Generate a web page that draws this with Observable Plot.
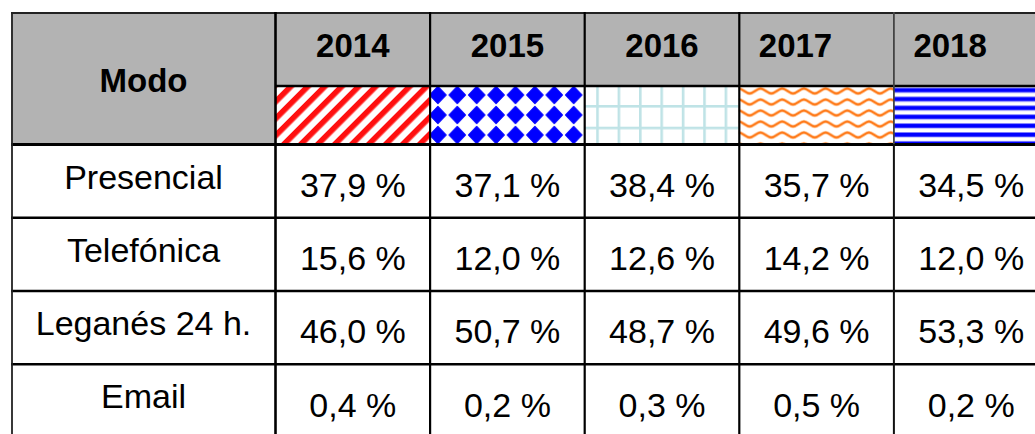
<!DOCTYPE html>
<html>
<head>
<meta charset="utf-8">
<script src="https://cdn.jsdelivr.net/npm/d3@7"></script>
<script src="https://cdn.jsdelivr.net/npm/@observablehq/plot@0.6"></script>
<style>
  html, body { margin: 0; padding: 0; background: #fff; }
  #chart svg { display: block; }
</style>
</head>
<body>
<div id="chart"></div>
<script>
// ---- data ----
const headerLabel = "Modo";
const modes = ["Presencial", "Telefónica", "Leganés 24 h.", "Email"];
const years = ["2014", "2015", "2016", "2017", "2018"];
const v2014 = [37.9, 15.6, 46.0, 0.4];
const v2015 = [37.1, 12.0, 50.7, 0.2];
const v2016 = [38.4, 12.6, 48.7, 0.3];
const v2017 = [35.7, 14.2, 49.6, 0.5];
const v2018 = [34.5, 12.0, 53.3, 0.2];
const series = [v2014, v2015, v2016, v2017, v2018];

// ---- layout ----
const W = 1035, H = 434;
const tLeft = 11, tTop = 12, modoRight = 275, tRight = 1048;
const yearRowBottom = 85.5, headerBottom = 144, tBottom = 437;
const xYear = d3.scaleBand().domain(years).range([modoRight, tRight]);
const yMode = d3.scaleBand().domain(modes).range([headerBottom, tBottom]);
const bw = xYear.bandwidth();
const fmt = v => d3.format(".1f")(v).replace(".", ",") + " %";

const table = years.flatMap((yr, i) => modes.map((m, j) => ({year: yr, mode: m, value: series[i][j]})));

const headerBg = [
  {x1: tLeft, x2: modoRight, y1: tTop, y2: headerBottom},
  {x1: modoRight, x2: tRight, y1: tTop, y2: yearRowBottom}
];
const patternCells = years.map(yr => ({year: yr, x1: xYear(yr), x2: xYear(yr) + bw, y1: yearRowBottom, y2: headerBottom, fill: `url(#pat${yr})`}));

const font = "'Liberation Sans', Arial, Helvetica, sans-serif";

const plot = Plot.plot({
  width: W,
  height: H,
  margin: 0,
  x: {type: "identity"},
  y: {type: "identity"},
  color: {type: "identity"},
  style: {fontFamily: font, background: "#fff", color: "#000"},
  marks: [
    Plot.rect(headerBg, {x1: "x1", x2: "x2", y1: "y1", y2: "y2", fill: "#b3b3b3"}),
    Plot.rect(patternCells, {x1: "x1", x2: "x2", y1: "y1", y2: "y2", fill: "fill"}),
    Plot.text([headerLabel], {x: (tLeft + modoRight) / 2, y: 91, text: d => d, fontSize: 33, fontWeight: "bold", textAnchor: "middle", lineAnchor: "bottom", fill: "#000"}),
    Plot.text(years.slice(0, 3), {
      x: d => xYear(d) + bw / 2, y: 56, text: d => d,
      fontSize: 33, fontWeight: "bold", textAnchor: "middle", lineAnchor: "bottom", fill: "#000"
    }),
    Plot.text(years.slice(3), {
      x: d => xYear(d) + 19.5, y: 56, text: d => d,
      fontSize: 33, fontWeight: "bold", textAnchor: "start", lineAnchor: "bottom", fill: "#000"
    }),
    Plot.text(modes, {x: (tLeft + modoRight) / 2, y: d => yMode(d) + 44, text: d => d, fontSize: 34, textAnchor: "middle", lineAnchor: "bottom", fill: "#000"}),
    Plot.text(table, {x: d => xYear(d.year) + bw / 2, y: d => yMode(d.mode) + 52.4, text: d => fmt(d.value), fontSize: 34, textAnchor: "middle", lineAnchor: "bottom", fill: "#000"}),
    Plot.ruleY([tTop + 0.5], {y: d => d, x1: tLeft, x2: tRight, stroke: "#222", strokeWidth: 1.8}),
    Plot.ruleY([yearRowBottom], {y: d => d, x1: modoRight, x2: tRight, stroke: "#000", strokeWidth: 2.6}),
    Plot.ruleY([headerBottom], {y: d => d, x1: tLeft, x2: tRight, stroke: "#000", strokeWidth: 3}),
    Plot.ruleY(modes.slice(1), {y: d => yMode(d), x1: tLeft, x2: tRight, stroke: "#000", strokeWidth: 2.6}),
    Plot.ruleX([tLeft + 0.5], {x: d => d, y1: tTop, y2: tBottom, stroke: "#222", strokeWidth: 1.8}),
    Plot.ruleX([modoRight], {x: d => d, y1: tTop, y2: tBottom, stroke: "#000", strokeWidth: 2.6}),
    Plot.ruleX(years.slice(1, 4), {x: d => xYear(d), y1: tTop, y2: tBottom, stroke: "#000", strokeWidth: 2.2}),
    Plot.ruleX(years.slice(4), {x: d => xYear(d), y1: tTop, y2: headerBottom, stroke: "#444", strokeWidth: 1.8}),
    Plot.ruleX(years.slice(4), {x: d => xYear(d), y1: headerBottom, y2: tBottom, stroke: "#111", strokeWidth: 2})
  ]
});

const ns = "http://www.w3.org/2000/svg";
const defs = document.createElementNS(ns, "defs");
const x2015 = xYear("2015"), x2016 = xYear("2016"), x2017 = xYear("2017");
const wave = "M-10.85,7.5 C-7.2,7.5 -3.6,2.5 0,2.5 C3.6,2.5 7.2,7.5 10.85,7.5 C14.5,7.5 18.1,2.5 21.7,2.5 C25.3,2.5 28.9,7.5 32.55,7.5";
defs.innerHTML = `
<pattern id="pat2014" patternUnits="userSpaceOnUse" width="12" height="12" patternTransform="rotate(45)">
  <rect width="12" height="12" fill="#fff"/>
  <rect x="0" y="-1" width="5.6" height="14" fill="#ff1010"/>
</pattern>
<pattern id="pat2015" patternUnits="userSpaceOnUse" x="${x2015 - 1.4}" y="85" width="19.4" height="20">
  <rect width="19.4" height="20" fill="#fff"/>
  <polygon points="9.7,1.5 17.8,10 9.7,18.5 1.6,10" fill="#0000ff" stroke="#0000ff" stroke-width="1.2" stroke-linejoin="round"/>
</pattern>
<pattern id="pat2016" patternUnits="userSpaceOnUse" x="${x2016 + 12}" y="105" width="21.4" height="21.7">
  <rect width="21.4" height="21.7" fill="#fff"/>
  <rect x="0" y="0" width="2.6" height="21.7" fill="#bfe3e6"/>
  <rect x="0" y="0" width="21.4" height="2.6" fill="#bfe3e6"/>
</pattern>
<pattern id="pat2017" patternUnits="userSpaceOnUse" x="${x2017}" y="86" width="21.7" height="11">
  <rect width="21.7" height="11" fill="#fff"/>
  <path d="${wave}" fill="none" stroke="#ffc89a" stroke-width="3.4"/>
  <path d="${wave}" fill="none" stroke="#ff7a1a" stroke-width="1.8"/>
</pattern>
<pattern id="pat2018" patternUnits="userSpaceOnUse" x="0" y="87.5" width="20" height="8.9">
  <rect width="20" height="8.9" fill="#fff"/>
  <rect x="0" y="0" width="20" height="5.4" fill="#9a9aff"/>
  <rect x="0" y="0.8" width="20" height="3.8" fill="#0000ff"/>
</pattern>`;
plot.insertBefore(defs, plot.firstChild);

document.getElementById("chart").appendChild(plot);
</script>
</body>
</html>
